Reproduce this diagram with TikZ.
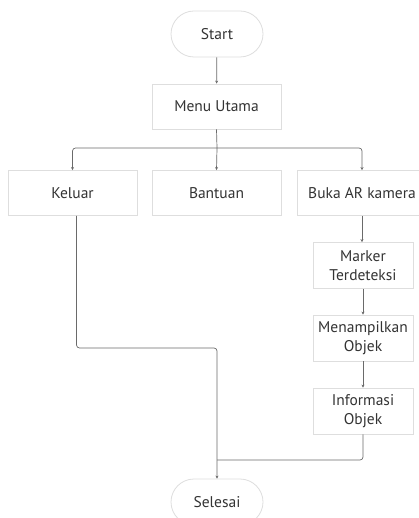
\documentclass[tikz,border=0pt]{standalone}
\usepackage{fontspec}
\setmainfont{PT Sans}
\usetikzlibrary{arrows.meta}
\definecolor{boxline}{HTML}{DEDEDE}
\definecolor{conn}{HTML}{6A6A6A}
\definecolor{txt}{HTML}{333333}
\begin{document}
\begin{tikzpicture}[x=1pt,y=-1pt,
  box/.style={draw=boxline,line width=0.8pt,fill=white,minimum width=129pt,minimum height=45pt,inner sep=0pt,text=txt,font=\fontsize{15.5}{18.5}\selectfont,align=center},
  sbox/.style={box,minimum width=100pt,minimum height=46pt},
  term/.style={box,minimum width=92pt,minimum height=46pt,rounded corners=23pt},
  conn/.style={draw=conn,line width=0.7pt,rounded corners=3pt},
  arr/.style={conn,-{Stealth[length=3pt,width=3pt]}}]
\useasboundingbox (0,0) rectangle (419,518);
\node[term] (start) at (217,34) {Start};
\node[box] (menu) at (216.5,106.5) {Menu Utama};
\node[box] (keluar) at (72.5,193) {Keluar};
\node[box] (bantuan) at (216.5,193) {Bantuan};
\node[box] (buka) at (362,193) {Buka AR kamera};
\node[sbox] (marker) at (363,265.5) {Marker\\Terdeteksi};
\node[sbox] (tampil) at (363,338) {Menampilkan\\Objek};
\node[sbox] (info) at (363,411) {Informasi\\Objek};
\node[term] (selesai) at (217,502) {Selesai};
\coordinate (split) at (217,148);
\coordinate (join) at (217,460);
\draw[arr] (start) -- (menu);
\draw[conn] (menu.south) -- (split);
\draw[arr] (split) -| (keluar.north);
\draw[arr] (split) -| (buka.north);
\draw[arr] (split) -- (bantuan.north);
\draw[arr] (buka.south) -- (buka.south |- marker.north);
\draw[arr] (marker) -- (tampil);
\draw[arr] (tampil) -- (info);
\draw[arr] ([xshift=4pt]keluar.south) |- (217,348) -- (selesai.north);
\draw[conn] (info.south) |- (join);
\end{tikzpicture}
\end{document}
